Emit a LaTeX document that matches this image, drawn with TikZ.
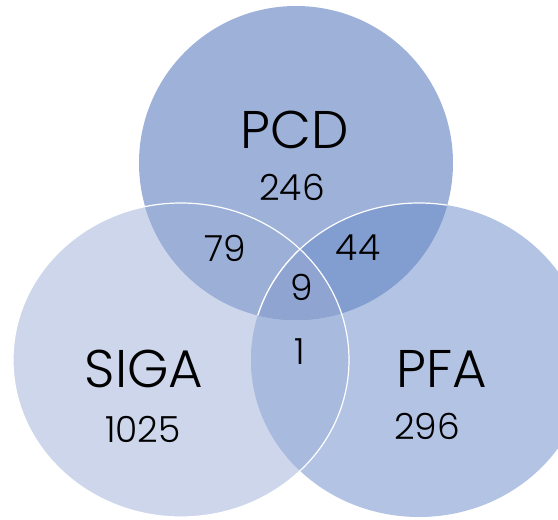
\documentclass[tikz,border=0pt]{standalone}
\usepackage{fontspec}
\setmainfont{Poppins}[UprightFont={* Light}]
\definecolor{sigacol}{RGB}{205,214,235}
\definecolor{pfacol}{RGB}{179,195,228}
\definecolor{pcdcol}{RGB}{158,178,217}
\definecolor{sigapfacol}{RGB}{169,186,223}
\definecolor{pcdsigacol}{RGB}{155,175,215}
\definecolor{pcdpfacol}{RGB}{130,157,207}
\definecolor{allcol}{RGB}{143,164,209}

\begin{document}
\begin{tikzpicture}[x=1pt, y=1pt,
    setname/.style={font=\fontsize{53}{60}\selectfont, inner sep=0pt},
    count/.style={font=\fontsize{36}{40}\selectfont, inner sep=0pt},
    rim/.style={draw=white, line width=1.2pt}]
    \useasboundingbox (0,0) rectangle (558,520);
    \def\pcdset{(296,357) circle (157pt)}
    \def\sigaset{(181,160) ellipse (168pt and 157pt)}
    \def\pfaset{(419,160) ellipse (168pt and 157pt)}
    \fill[sigacol] \sigaset;
    \fill[pfacol] \pfaset;
    \fill[pcdcol] \pcdset;
    \begin{scope}
      \clip \sigaset;
      \fill[sigapfacol] \pfaset;
    \end{scope}
    \begin{scope}
      \clip \pcdset;
      \fill[pcdsigacol] \sigaset;
      \fill[pcdpfacol] \pfaset;
      \draw[rim] \pfaset;
      \clip \sigaset;
      \fill[allcol] \pfaset;
      \draw[rim] \pfaset;
    \end{scope}
    \draw[rim] \sigaset;
    \node[setname] (pcd) at (295,390) {PCD};
    \node[count] (n246) at (292,333) {246};
    \node[count] (n79) at (225,272) {79};
    \node[count] (n44) at (358,272) {44};
    \node[count] (n9) at (302,233) {9};
    \node[count] (n1) at (300,168) {1};
    \node[setname] (siga) at (144,151) {SIGA};
    \node[count] (n1025) at (143,91) {1025};
    \node[setname] (pfa) at (442,151) {PFA};
    \node[count] (n296) at (427,94) {296};
\end{tikzpicture}
\end{document}
